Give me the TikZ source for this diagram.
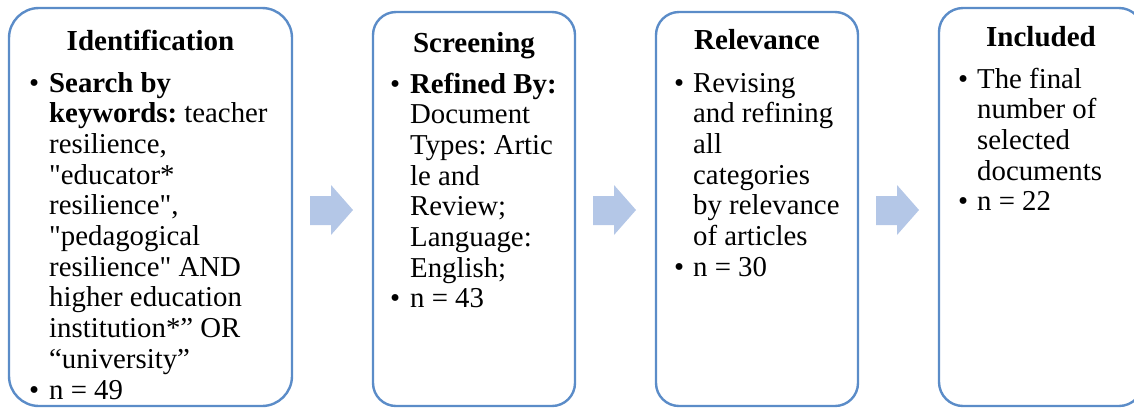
\documentclass[tikz,border=0pt]{standalone}
\usepackage{fontspec}
\setmainfont{Liberation Serif}
\newfontfamily\plainq{Liberation Serif}
\definecolor{boxblue}{HTML}{5B8CC8}
\definecolor{arrowblue}{HTML}{B4C7E7}
\newcommand{\bodyfnt}{\fontsize{28.8}{30.7}\selectfont\frenchspacing}
\newcommand{\titlefnt}{\fontsize{29}{30}\selectfont\bfseries}
\newcommand{\bul}[1]{\makebox[#1][l]{•}}
\newcommand{\sq}{{\plainq"}}
\begin{document}
\begin{tikzpicture}[x=1pt,y=-1pt,
  stagebox/.style={draw=boxblue, line width=2.4pt, fill=white, inner sep=0pt, outer sep=0pt},
  titletext/.style={font=\titlefnt, anchor=base, inner sep=0pt},
  bodytext/.style={font=\bodyfnt, anchor=base west, inner sep=0pt, align=left},
  blockarrow/.style={fill=arrowblue, draw=none}]
\useasboundingbox (0,0) rectangle (1134,408);
\clip (0,0) rectangle (1134,408);
% boxes
\node[stagebox, rounded corners=30pt, minimum width=283pt, minimum height=398pt] (b1) at (150.5,207) {};
\node[stagebox, rounded corners=23pt, minimum width=202pt, minimum height=394pt] (b2) at (474,209) {};
\node[stagebox, rounded corners=23pt, minimum width=202pt, minimum height=394pt] (b3) at (757,209) {};
\node[stagebox, rounded corners=24pt, minimum width=204pt, minimum height=398pt] (b4) at (1041,207) {};
% arrows
\foreach \x in {310,593,876}
  \fill[blockarrow] (\x,196) -- (\x+21,196) -- (\x+21,185) -- (\x+43,210) -- (\x+21,235) -- (\x+21,225) -- (\x,225) -- cycle;
% titles
\node[titletext] (h1) at (150.5,50) {Identification};
\node[titletext] (h2) at (474,52) {Screening};
\node[titletext] (h3) at (757,49) {Relevance};
\node[titletext] (h4) at (1041,46) {Included};
% body texts
\node[bodytext] (t1) at (29,92) {\begin{tabular}[t]{@{}l@{}l@{}}
\bul{20pt}&\textbf{Search by}\\
&\textbf{keywords:} teacher\\
&resilience,\\
&\sq educator*\\
&resilience\sq,\\
&\sq pedagogical\\
&resilience\sq{} AND\\
&higher education\\
&institution*” OR\\
&“university”\\
\bul{20pt}&n = 49
\end{tabular}};
\node[bodytext] (t2) at (390,93) {\begin{tabular}[t]{@{}l@{}l@{}}
\bul{20pt}&\textbf{Refined By:}\\
&Document\\
&Types: Artic\\
&le and\\
&Review;\\
&Language:\\
&English;\\
\bul{20pt}&n = 43
\end{tabular}};
\node[bodytext] (t3) at (674,92) {\begin{tabular}[t]{@{}l@{}l@{}}
\bul{19pt}&Revising\\
&and refining\\
&all\\
&categories\\
&by relevance\\
&of articles\\
\bul{19pt}&n = 30
\end{tabular}};
\node[bodytext] (t4) at (958,88) {\begin{tabular}[t]{@{}l@{}l@{}}
\bul{19pt}&The final\\
&number of\\
&selected\\
&documents\\
\bul{19pt}&n = 22
\end{tabular}};
\end{tikzpicture}
\end{document}
